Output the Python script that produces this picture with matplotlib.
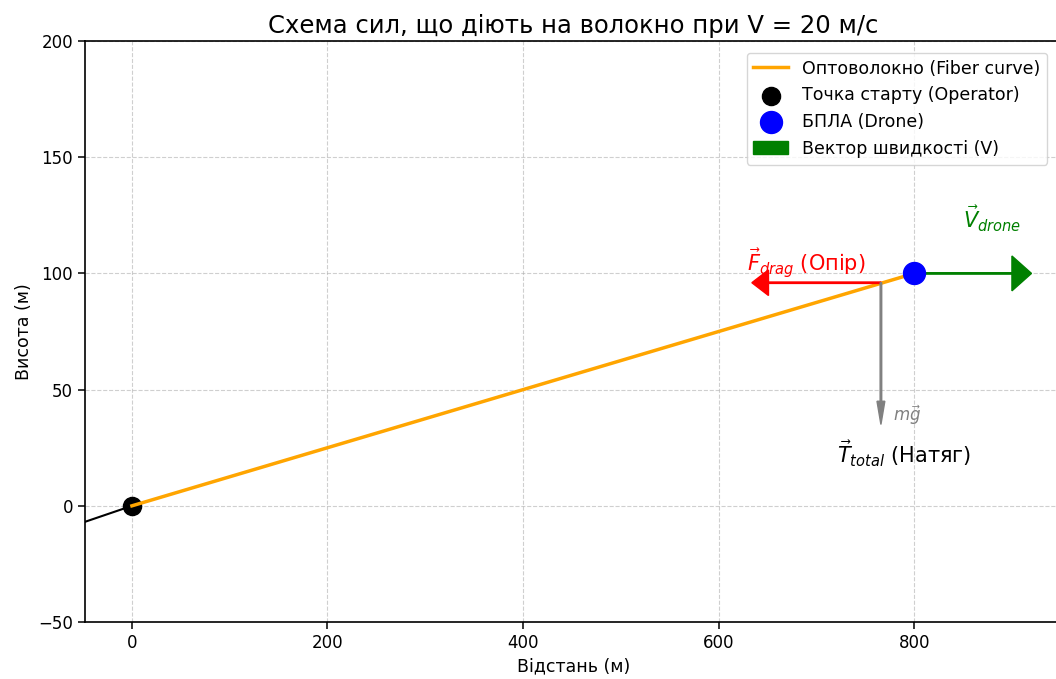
import numpy as np
from matplotlib import pyplot as plt

plt.rcParams['font.family'] = ['DejaVu Sans']

# geometry of the fiber and the drone
operator = (0, 0)
drone = (800, 100)
fiber_x = [0, 800]
fiber_y = [0, 100]
lead_x = [-60, 0]
lead_y = [-8.6, 0]

# force application point on the fiber near the drone
force_pt = (766, 96)
drag_dx = -115
weight_dy = -51
speed_dx = 100

fig = plt.figure(figsize=(10.56, 6.79), dpi=100)
ax = fig.add_axes([0.0805, 0.0839, 0.925, 0.8557])

ax.plot(lead_x, lead_y, color='black', lw=1.5, zorder=2)
op = ax.scatter(*operator, s=170, color='black', label='Точка старту (Operator)', zorder=3)
fiber, = ax.plot(fiber_x, fiber_y, color='orange', lw=2.5, label='Оптоволокно (Fiber curve)', zorder=4)
dr = ax.scatter(*drone, s=250, color='blue', label='БПЛА (Drone)', zorder=6)

vel = ax.arrow(drone[0], drone[1], speed_dx, 0, width=0.6, head_width=15, head_length=20,
               color='green', label='Вектор швидкості (V)', zorder=5)
ax.arrow(force_pt[0], force_pt[1], drag_dx, 0, width=0.6, head_width=11, head_length=17,
         color='red', zorder=5)
ax.arrow(force_pt[0], force_pt[1], 0, weight_dy, width=1.6, head_width=8, head_length=10,
         color='gray', zorder=5)

ax.text(880, 123.5, r'$\vec{V}_{drone}$', color='green', fontsize=15, ha='center', va='center')
ax.text(689.5, 104.6, r'$\vec{F}_{drag}$ (Опір)', color='red', fontsize=15, ha='center', va='center')
ax.text(793, 39, r'$m\vec{g}$', color='gray', fontsize=12, ha='center', va='center')
ax.text(790, 22.4, r'$\vec{T}_{total}$ (Натяг)', color='black', fontsize=15, ha='center', va='center')

ax.set_xlim(-48, 951)
ax.set_ylim(-50, 200)
ax.set_xticks([0, 200, 400, 600, 800])
ax.set_yticks([-50, 0, 50, 100, 150, 200])
ax.tick_params(labelsize=12, length=5, width=1.1)
for s in ax.spines.values():
    s.set_linewidth(1.2)
ax.grid(True, linestyle='--', alpha=0.6)
ax.set_title('Схема сил, що діють на волокно при V = 20 м/с', fontsize=17.5)
ax.set_xlabel('Відстань (м)', fontsize=12.5)
ax.set_ylabel('Висота (м)', fontsize=12.5)
ax.legend(handles=[fiber, op, dr, vel], loc='upper right', fontsize=12.5,
          bbox_to_anchor=(0.994, 0.995))

plt.savefig('out.png', dpi=100)
